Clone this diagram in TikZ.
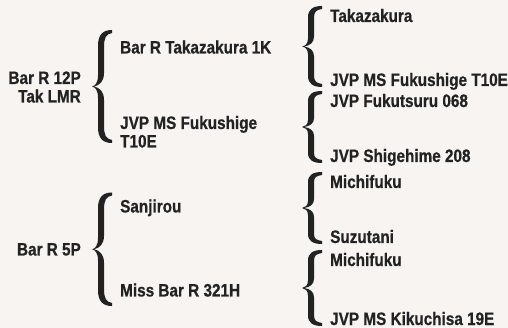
\documentclass[tikz,border=0pt]{standalone}
\usepackage{fontspec}
\usepackage{tikz}
\usetikzlibrary{calc}
\newfontfamily\pedfont{Liberation Sans Bold}[FakeStretch=0.85, FakeBold=0.6]
\definecolor{paper}{HTML}{F7F4F1}
\definecolor{ink}{HTML}{222222}

\begin{document}
\begin{tikzpicture}[x=1pt, y=-1pt,
  horse/.style={inner sep=0pt, text=ink, font=\pedfont\fontsize{18}{18.5}\selectfont},
  sire/.style={horse, anchor=base east, align=right},
  kid/.style={horse, anchor=base west, align=left},
  curly/.style={to path={
    let \p1=(\tikztostart), \p2=(\tikztotarget), \n1={\y1-\y2} in
    .. controls ({\x1-9},{\y1}) and ({\x1-14},{\y1-0.04*\n1}) .. ({\x1-14},{\y1-0.14*\n1})
    -- ({\x1-14},{\y1-0.40*\n1})
    .. controls ({\x1-14},{\y1-0.47*\n1}) and ({\x1-17},{\y1-0.495*\n1}) .. ({\x1-20},{\y1-0.5*\n1})
    .. controls ({\x1-17},{\y1-0.505*\n1}) and ({\x1-14},{\y1-0.53*\n1}) .. ({\x1-14},{\y1-0.60*\n1})
    -- ({\x1-14},{\y1-0.86*\n1})
    .. controls ({\x1-14},{\y1-0.96*\n1}) and ({\x1-9},{\y2}) .. (\x1,\y2)
    -- ({\x1},{\y2+3})
    .. controls ({\x1-6},{\y2+4}) and ({\x1-8},{\y1-0.93*\n1}) .. ({\x1-8},{\y1-0.85*\n1})
    -- ({\x1-8},{\y1-0.62*\n1})
    .. controls ({\x1-8},{\y1-0.55*\n1}) and ({\x1-12},{\y1-0.51*\n1}) .. ({\x1-18},{\y1-0.5*\n1})
    .. controls ({\x1-12},{\y1-0.49*\n1}) and ({\x1-8},{\y1-0.45*\n1}) .. ({\x1-8},{\y1-0.38*\n1})
    -- ({\x1-8},{\y1-0.15*\n1})
    .. controls ({\x1-8},{\y1-0.07*\n1}) and ({\x1-6},{\y1-4}) .. ({\x1},{\y1-3})
    -- cycle}}
]
\fill[paper] (0,0) rectangle (508,328);
% sires
\node[sire] (tak) at (81,102.5) {Bar R 12P\\Tak LMR};
\node[sire] (bar5) at (81,255.5) {Bar R 5P};
% parents
\node[kid] (bartak) at (120,53.5) {Bar R Takazakura 1K};
\node[kid] (fuku) at (120,147.5) {JVP MS Fukushige\\T10E};
\node[kid] (sanj) at (120,212.5) {Sanjirou};
\node[kid] (miss) at (120,296.5) {Miss Bar R 321H};
% grandparents
\foreach \n/\y/\lab in {g1/22/Takazakura, g2/86/JVP MS Fukushige T10E, g3/107/JVP Fukutsuru 068,
  g4/162/JVP Shigehime 208, g5/188/Michifuku, g6/243/Suzutani, g7/266/Michifuku, g8/325/JVP MS Kikuchisa 19E} {
  \node[kid] (\n) at (330,\y) {\lab};
}
\fill[ink] ($(bartak.base west)+(-8pt,23.5pt)$) to[curly] ($(fuku.base west)+(-8pt,4.5pt)$);
\fill[ink] ($(sanj.base west)+(-8pt,20pt)$) to[curly] ($(miss.base west)+(-8pt,-9.5pt)$);
\foreach \a/\b in {g1/g2, g3/g4, g5/g6, g7/g8} {
  \fill[ink] ($(\a.base west)+(-8pt,16pt)$) to[curly] ($(\b.base west)+(-8pt,-1pt)$);
}
\end{tikzpicture}
\end{document}
